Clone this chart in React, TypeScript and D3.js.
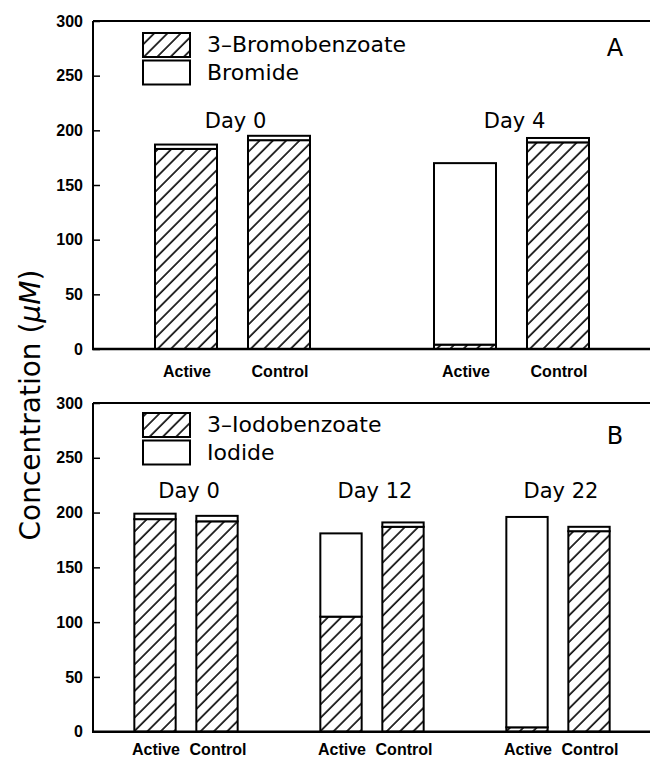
// Stacked bar chart: benzoate vs halide concentration, two panels
import * as d3 from "d3";
import { useEffect, useRef } from "react";

const treatments = ["Active", "Control"];
const yTicks = [0, 50, 100, 150, 200, 250, 300];

// panel A
const daysA = ["Day 0", "Day 4"];
const bromobenzoate = [183, 191, 4, 189];
const bromide = [4, 4, 166, 4];
const legendA = ["3–Bromobenzoate", "Bromide"];

// panel B
const daysB = ["Day 0", "Day 12", "Day 22"];
const iodobenzoate = [194, 192, 105, 187, 4, 183];
const iodide = [5, 5, 76, 4, 192, 4];
const legendB = ["3–Iodobenzoate", "Iodide"];

const W = 650;
const H = 759;
const LEFT = 93;
const RIGHT = 651;
const TEXT_FONT = "'DejaVu Sans', Verdana, sans-serif";
const TICK_FONT = "'Liberation Sans', Arial, sans-serif";

const panels = [
  { letter: "A", days: daysA, lower: bromobenzoate, upper: bromide, legend: legendA,
    top: 21, bottom: 349, legendTop: 33, letterY: 56, dayY: 127.5, catY: 377 },
  { letter: "B", days: daysB, lower: iodobenzoate, upper: iodide, legend: legendB,
    top: 403, bottom: 731.7, legendTop: 413, letterY: 444, dayY: 498, catY: 755 },
];

export default function App() {
  const svgRef = useRef(null);

  useEffect(() => {
    const svg = d3.select(svgRef.current);
    svg.selectAll("*").remove();

    //HATCH PATTERN
    svg
      .append("defs")
      .append("pattern")
      .attr("id", "hatch")
      .attr("patternUnits", "userSpaceOnUse")
      .attr("width", 9.4)
      .attr("height", 10)
      .attr("patternTransform", "rotate(45)")
      .append("line")
      .attr("x1", 1)
      .attr("y1", 0)
      .attr("x2", 1)
      .attr("y2", 10)
      .attr("stroke", "#000")
      .attr("stroke-width", 1.6);

    panels.forEach((p) => {
      const g = svg.append("g");
      const nSlots = p.days.length * 3;
      const x = d3.scaleLinear().domain([0, nSlots]).range([LEFT, RIGHT]);
      const y = d3.scaleLinear().domain([0, 300]).range([p.bottom, p.top]);
      const bw = ((x(1) - x(0)) * 2) / 3;

      const bars = p.days.flatMap((day, gi) =>
        treatments.map((t, ti) => ({
          day,
          t,
          slot: 1 + gi * 3 + ti,
          low: p.lower[gi * 2 + ti],
          high: p.upper[gi * 2 + ti],
        }))
      );

      //BENZOATE (HATCHED)
      g.append("g")
        .selectAll("rect")
        .data(bars)
        .join("rect")
        .attr("x", (d) => x(d.slot) - bw / 2)
        .attr("y", (d) => y(d.low))
        .attr("width", bw)
        .attr("height", (d) => y(0) - y(d.low))
        .attr("fill", "url(#hatch)")
        .attr("stroke", "#000")
        .attr("stroke-width", 2);

      //HALIDE (WHITE)
      g.append("g")
        .selectAll("rect")
        .data(bars)
        .join("rect")
        .attr("x", (d) => x(d.slot) - bw / 2)
        .attr("y", (d) => y(d.low + d.high))
        .attr("width", bw)
        .attr("height", (d) => y(d.low) - y(d.low + d.high))
        .attr("fill", "#fff")
        .attr("stroke", "#000")
        .attr("stroke-width", 2);

      //Y AXIS
      const axis = d3
        .axisLeft(y)
        .tickValues(yTicks)
        .tickSizeInner(-7)
        .tickSizeOuter(0)
        .tickPadding(10);
      const ag = g.append("g").attr("transform", `translate(${LEFT},0)`).call(axis);
      ag.select(".domain").remove();
      ag.selectAll("line").attr("stroke", "#000").attr("stroke-width", 1.5);
      ag.selectAll("text")
        .attr("fill", "#000")
        .attr("font-family", TICK_FONT)
        .attr("font-size", 16)
        .attr("font-weight", "bold");

      //FRAME
      g.append("line")
        .attr("x1", LEFT).attr("x2", LEFT)
        .attr("y1", y(300)).attr("y2", y(0))
        .attr("stroke", "#000").attr("stroke-width", 2);
      g.append("line")
        .attr("x1", LEFT).attr("x2", RIGHT)
        .attr("y1", y(300)).attr("y2", y(300))
        .attr("stroke", "#000").attr("stroke-width", 2);
      g.append("line")
        .attr("x1", LEFT - 1).attr("x2", RIGHT)
        .attr("y1", y(0)).attr("y2", y(0))
        .attr("stroke", "#000").attr("stroke-width", 2.5);

      //CATEGORY LABELS
      g.append("g")
        .selectAll("text")
        .data(bars)
        .join("text")
        .attr("x", (d) => x(d.slot) + 1)
        .attr("y", p.catY)
        .attr("text-anchor", "middle")
        .attr("font-family", TICK_FONT)
        .attr("font-size", 16)
        .attr("font-weight", "bold")
        .text((d) => d.t);

      //DAY LABELS
      g.append("g")
        .selectAll("text")
        .data(p.days)
        .join("text")
        .attr("x", (d, i) => x(i * 3 + 1.5) + 3)
        .attr("y", p.dayY)
        .attr("text-anchor", "middle")
        .attr("font-family", TEXT_FONT)
        .attr("font-size", 21)
        .text((d) => d);

      //LEGEND
      const lg = g.append("g");
      p.legend.forEach((name, i) => {
        const top = p.legendTop + i * 27.5;
        lg.append("rect")
          .attr("x", 143).attr("y", top)
          .attr("width", 47).attr("height", 24)
          .attr("fill", i === 0 ? "url(#hatch)" : "#fff")
          .attr("stroke", "#000").attr("stroke-width", 2);
        lg.append("text")
          .attr("x", 207).attr("y", top + 19.3)
          .attr("font-family", TEXT_FONT)
          .attr("font-size", 22)
          .text(name);
      });

      //PANEL LETTER
      g.append("text")
        .attr("x", 615).attr("y", p.letterY)
        .attr("text-anchor", "middle")
        .attr("font-family", TEXT_FONT)
        .attr("font-size", 24)
        .text(p.letter);
    });

    //Y TITLE
    const t = svg
      .append("text")
      .attr("transform", "translate(39.5,405) rotate(-90)")
      .attr("text-anchor", "middle")
      .attr("font-family", TEXT_FONT)
      .attr("font-size", 28);
    t.append("tspan").text("Concentration");
    t.append("tspan").attr("dx", 9).text("(");
    t.append("tspan").attr("font-style", "italic").text("μM");
    t.append("tspan").text(")");
  }, []);

  return (
    <svg
      ref={svgRef}
      width={W}
      height={H}
      style={{ position: "absolute", left: 0, top: 0, background: "#fff" }}
    />
  );
}
